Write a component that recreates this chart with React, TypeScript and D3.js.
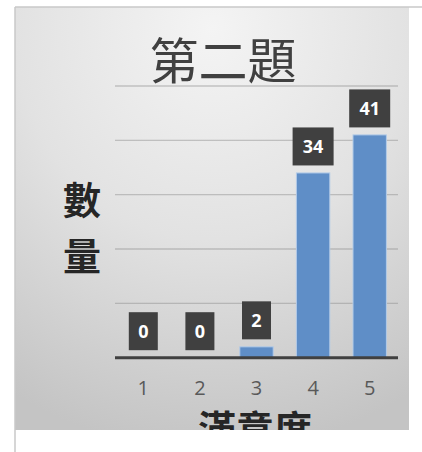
import * as d3 from 'd3';

const categories = ['1', '2', '3', '4', '5'];
const counts = [0, 0, 2, 34, 41];
const yTicks = [10, 20, 30, 40, 50];
const title = '第二題';
const yTitle = ['數', '量'];
const xTitle = '滿意度';

const W = 422;
const H = 452;
const plot = { left: 115, right: 398, top: 86, bottom: 357.7 };
const frame = { left: 15, top: 7, right: 409, bottom: 430 };

export default function App() {
  const x = d3.scaleBand<string>()
    .domain(categories)
    .range([plot.left, plot.right])
    .paddingInner(0.41)
    .paddingOuter(0.205);

  const y = d3.scaleLinear()
    .domain([0, 50])
    .range([plot.bottom, plot.top]);

  const sans = '"Open Sans", "Liberation Sans", sans-serif';
  const cjk = '"Noto Sans CJK TC", "Noto Sans CJK SC", sans-serif';

  return (
    <svg
      width={W}
      height={H}
      style={{ position: 'absolute', left: 0, top: 0, display: 'block' }}
    >
      <defs>
        <radialGradient id="bg" cx="0.5" cy="0.05" r="1" fx="0.5" fy="0.05">
          <stop offset="0" stopColor="#f4f4f4" />
          <stop offset="0.5" stopColor="#e2e2e2" />
          <stop offset="1" stopColor="#c4c4c4" />
        </radialGradient>
        <clipPath id="frameClip">
          <rect x={frame.left} y={frame.top} width={frame.right - frame.left} height={frame.bottom - frame.top} />
        </clipPath>
      </defs>

      <rect width={W} height={H} fill="#ffffff" />
      <rect
        x={frame.left}
        y={frame.top}
        width={frame.right - frame.left}
        height={frame.bottom - frame.top}
        fill="url(#bg)"
      />
      {/* outer border lines */}
      <line x1={frame.left} x2={W} y1={frame.top} y2={frame.top} stroke="#c8c8c8" strokeWidth={1.5} />
      <line x1={frame.left} x2={frame.left} y1={frame.top} y2={H} stroke="#c8c8c8" strokeWidth={1.5} />

      <g clipPath="url(#frameClip)">
        {/* title */}
        <text
          x={223}
          y={79}
          textAnchor="middle"
          fontFamily={cjk}
          fontSize={49}
          fill="#404040"
        >
          {title}
        </text>

        {/* gridlines */}
        {yTicks.map(t => (
          <line
            key={t}
            x1={plot.left}
            x2={plot.right}
            y1={y(t)}
            y2={y(t)}
            stroke="#8c8c8c"
            strokeOpacity={0.45}
            strokeWidth={1.3}
          />
        ))}

        {/* bars */}
        {counts.map((v, i) => (
          <rect
            key={categories[i]}
            x={x(categories[i])}
            y={y(v)}
            width={x.bandwidth()}
            height={plot.bottom - y(v)}
            fill="#5f8ec7"
            stroke="#b3cbe8"
            strokeWidth={1}
          />
        ))}

        {/* axis line */}
        <line
          x1={plot.left}
          x2={plot.right}
          y1={y(0)}
          y2={y(0)}
          stroke="#404040"
          strokeWidth={3}
        />

        {/* data labels */}
        {counts.map((v, i) => {
          const label = String(v);
          const bw = 17 + 12 * label.length;
          const bh = 38;
          const cx = (x(categories[i]) ?? 0) + x.bandwidth() / 2;
          const bottom = y(v) - 7.5;
          return (
            <g key={'lbl' + i}>
              <rect x={cx - bw / 2} y={bottom - bh} width={bw} height={bh} fill="#404040" />
              <text
                x={cx}
                y={bottom - bh / 2}
                dy="0.36em"
                textAnchor="middle"
                fontFamily={sans}
                fontWeight="bold"
                fontSize={18}
                fill="#ffffff"
              >
                {label}
              </text>
            </g>
          );
        })}

        {/* x tick labels */}
        {categories.map(c => (
          <text
            key={'t' + c}
            x={(x(c) ?? 0) + x.bandwidth() / 2}
            y={388}
            dy="0.36em"
            textAnchor="middle"
            fontFamily={sans}
            fontSize={20}
            fill="#595959"
          >
            {c}
          </text>
        ))}

        {/* y axis title, stacked vertically */}
        {yTitle.map((ch, i) => (
          <text
            key={'y' + i}
            x={82}
            y={200 + i * 56}
            dy="0.38em"
            textAnchor="middle"
            fontFamily={cjk}
            fontWeight="bold"
            fontSize={38}
            fill="#262626"
          >
            {ch}
          </text>
        ))}

        {/* x axis title (cut by chart area) */}
        <text
          x={255}
          y={443}
          textAnchor="middle"
          fontFamily={cjk}
          fontWeight="bold"
          fontSize={38}
          fill="#262626"
        >
          {xTitle}
        </text>
      </g>
    </svg>
  );
}
